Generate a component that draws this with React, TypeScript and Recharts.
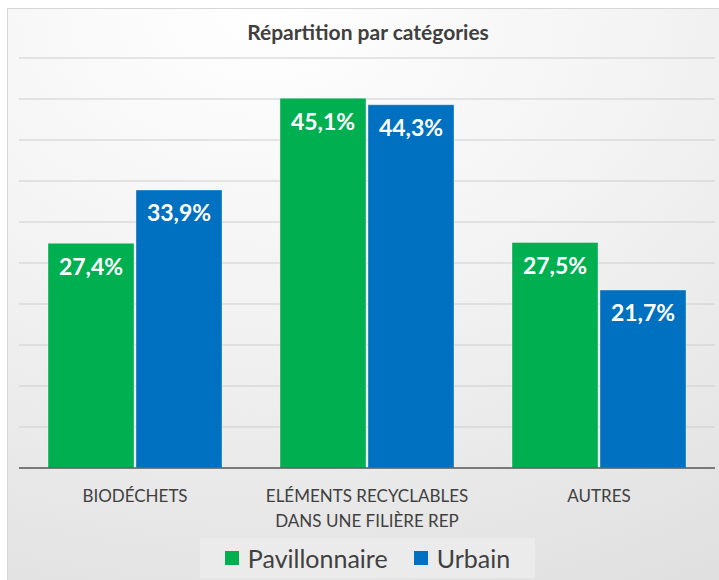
import React from "react";
import {
    BarChart,
    Bar,
    XAxis,
    YAxis,
    CartesianGrid,
    Legend,
    LabelList,
} from "recharts";

const categories = [
    "BIODÉCHETS",
    "ELÉMENTS RECYCLABLES\nDANS UNE FILIÈRE REP",
    "AUTRES",
];
const pavillonnaire = [27.4, 45.1, 27.5];
const urbain = [33.9, 44.3, 21.7];
const yTicks = [0, 5, 10, 15, 20, 25, 30, 35, 40, 45, 50];

const seriesInfo = [
    { key: "pavillonnaire", name: "Pavillonnaire", color: "#00B050" },
    { key: "urbain", name: "Urbain", color: "#0070C0" },
];

const chartData = categories.map((cat, i) => ({
    category: cat,
    pavillonnaire: pavillonnaire[i],
    urbain: urbain[i],
}));

const FONT = "Lato, 'Open Sans', sans-serif";

const formatPct = (v: any) => `${Number(v).toFixed(1).replace(".", ",")}%`;

function CategoryTick(props: any) {
    const { x, y, payload } = props;
    const lines = String(payload.value).split("\n");
    return (
        <g transform={`translate(${x},${y})`}>
            {lines.map((line: string, i: number) => (
                <text
                    key={i}
                    x={0}
                    y={32 - 6 + i * 25}
                    textAnchor="middle"
                    fill="#404040"
                    fontSize={17}
                    fontFamily={FONT}
                >
                    {line}
                </text>
            ))}
        </g>
    );
}

function LegendBox() {
    return (
        <div
            style={{
                width: 335,
                height: 40,
                background: "#ebebeb",
                display: "flex",
                alignItems: "center",
                justifyContent: "center",
                fontFamily: FONT,
                fontSize: 25,
                color: "#404040",
            }}
        >
            {seriesInfo.map((s, i) => (
                <div
                    key={s.key}
                    style={{
                        display: "flex",
                        alignItems: "center",
                        marginLeft: i > 0 ? 26 : 0,
                    }}
                >
                    <span
                        style={{
                            display: "inline-block",
                            width: 14,
                            height: 14,
                            background: s.color,
                            marginRight: 9,
                        }}
                    />
                    <span>{s.name}</span>
                </div>
            ))}
        </div>
    );
}

export default function App() {
    return (
        <div
            style={{
                position: "fixed",
                left: 0,
                top: 0,
                width: 719,
                height: 580,
                overflow: "hidden",
                background: "#ffffff",
            }}
        >
            <div
                style={{
                    position: "absolute",
                    left: 7,
                    top: 8,
                    width: 730,
                    height: 590,
                    border: "1px solid #d6d6d6",
                    background:
                        "radial-gradient(ellipse 120% 110% at 35% 0%, #ffffff 0%, #f3f3f3 45%, #e0e0e0 100%)",
                }}
            />
            <div
                style={{
                    position: "absolute",
                    left: 0,
                    top: 19,
                    width: 736,
                    textAlign: "center",
                    fontFamily: FONT,
                    fontWeight: 700,
                    fontSize: 21,
                    color: "#404040",
                }}
            >
                Répartition par catégories
            </div>
            <div style={{ position: "absolute", left: 0, top: 0 }}>
                <BarChart
                    width={719}
                    height={580}
                    data={chartData}
                    margin={{ top: 58, right: 4, left: 19, bottom: 0 }}
                    barCategoryGap="12.5%"
                    barGap={2}
                >
                    <CartesianGrid
                        vertical={false}
                        stroke="#cdcdcd"
                        strokeWidth={1.2}
                    />
                    <XAxis
                        dataKey="category"
                        height={72}
                        interval={0}
                        tickLine={false}
                        axisLine={{ stroke: "#5a5a5a", strokeWidth: 1.5 }}
                        tick={<CategoryTick />}
                    />
                    <YAxis hide domain={[0, 50]} ticks={yTicks} />
                    <Legend
                        verticalAlign="bottom"
                        height={40}
                        content={() => <LegendBox />}
                        wrapperStyle={{
                            left: 200,
                            width: 335,
                            bottom: 2,
                        }}
                    />
                    {seriesInfo.map((s) => (
                        <Bar
                            key={s.key}
                            dataKey={s.key}
                            name={s.name}
                            fill={s.color}
                            stroke="rgba(255,255,255,0.35)"
                            strokeWidth={1}
                            isAnimationActive={false}
                        >
                            <LabelList
                                dataKey={s.key}
                                position="insideTop"
                                offset={15}
                                formatter={formatPct}
                                fill="#ffffff"
                                fontSize={23}
                                fontWeight={700}
                                fontFamily={FONT}
                            />
                        </Bar>
                    ))}
                </BarChart>
            </div>
        </div>
    );
}
